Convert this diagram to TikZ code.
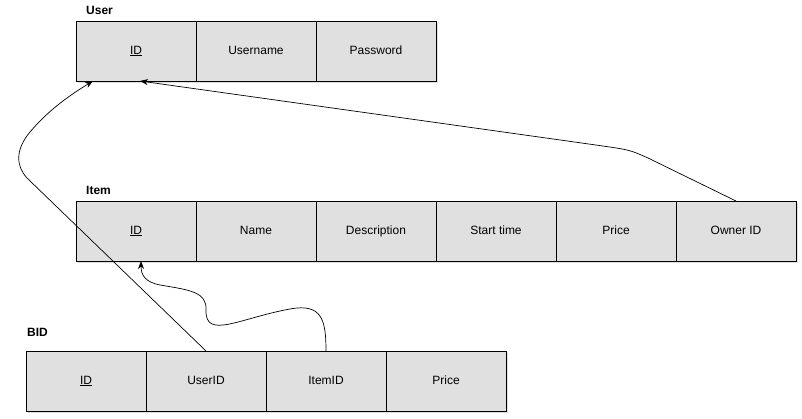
\documentclass[tikz,border=0pt]{standalone}
\usepackage{fontspec}
\setmainfont{Liberation Sans}
\usetikzlibrary{arrows.meta,positioning,shadows}
\definecolor{Cell}{HTML}{E0E0E0}
\tikzset{
  >={Stealth[length=8pt,width=6pt]},
  cell/.style={rectangle,draw=black,line width=.8pt,fill=Cell,minimum width=120pt,minimum height=60pt,
    outer sep=0pt,inner sep=0pt,text height=9pt,text depth=2.5pt,font=\fontsize{12}{14}\selectfont,
    drop shadow={opacity=.25,shadow xshift=2pt,shadow yshift=-2pt}},
  tabname/.style={font=\fontsize{12}{14}\selectfont\bfseries,anchor=west,inner sep=0pt},
  fk/.style={->,line width=.7pt,draw=black}
}
\begin{document}
\begin{tikzpicture}[x=1pt,y=-1pt,node distance=0pt]
  \useasboundingbox (0,0) rectangle (802,418);
  % User
  \node[tabname] (lUser) at (86,10) {User};
  \node[cell] (uId) at (136,51) {\underline{ID}};
  \node[cell,right=of uId] (uName) {Username};
  \node[cell,right=of uName] (uPass) {Password};
  % Item
  \node[tabname] (lItem) at (86,190) {Item};
  \node[cell] (iId) at (136,231) {\underline{ID}};
  \node[cell,right=of iId] (iName) {Name};
  \node[cell,right=of iName] (iDesc) {Description};
  \node[cell,right=of iDesc] (iStart) {Start time};
  \node[cell,right=of iStart] (iPrice) {Price};
  \node[cell,right=of iPrice] (iOwner) {Owner ID};
  % BID
  \node[tabname] (lBid) at (27,332) {BID};
  \node[cell] (bId) at (86,381) {\underline{ID}};
  \node[cell,right=of bId] (bUser) {UserID};
  \node[cell,right=of bUser] (bItem) {ItemID};
  \node[cell,right=of bItem] (bPrice) {Price};
  % references
  \draw[fk] (bUser.north) -- (27,178) .. controls (16,166) and (15,150) .. (30,132)
    .. controls (50,108) and (75,92) .. ([xshift=17pt]uId.south west);
  \draw[fk] (iOwner.north) -- (648,158) .. controls (630,150) .. (603,146) -- ([xshift=4pt]uId.south);
  \draw[fk] (bItem.north) .. controls (326,320) and (322,303) .. (290,309)
    .. controls (240,318) and (205,340) .. (206,310)
    .. controls (207,292) and (190,290) .. (160,285)
    .. controls (145,282) and (141,275) .. ([xshift=5pt]iId.south);
\end{tikzpicture}
\end{document}
